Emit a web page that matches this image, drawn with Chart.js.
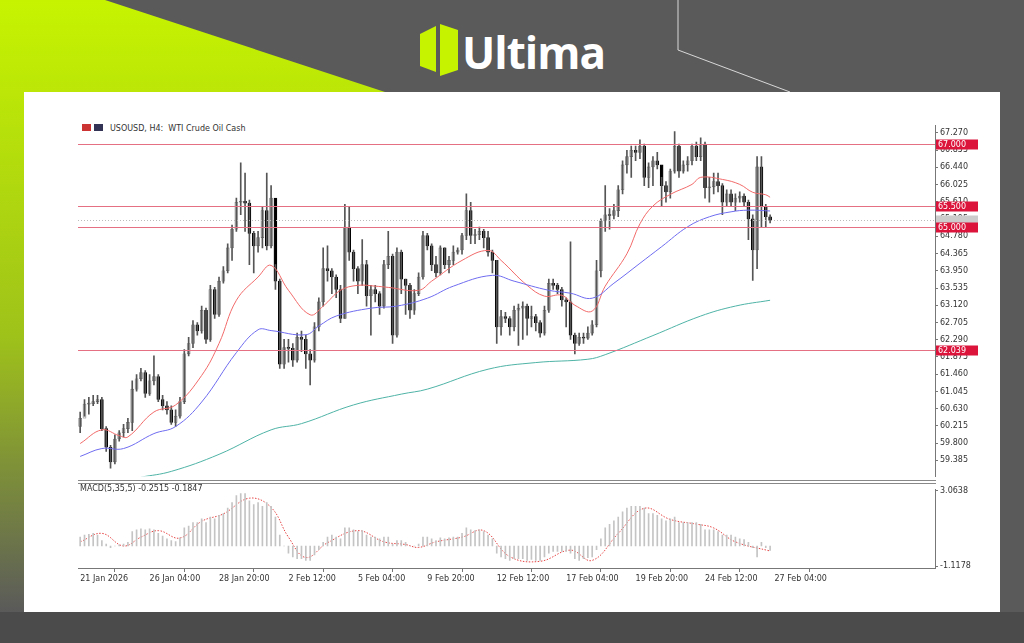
<!DOCTYPE html>
<html>
<head>
<meta charset="utf-8">
<script src="https://cdn.jsdelivr.net/npm/chart.js@4"></script>
<style>
  body { margin: 0; width: 1024px; height: 643px; overflow: hidden; background: #5a5a5a; font-family: "DejaVu Sans", sans-serif; }
  #deco { position: absolute; left: 0; top: 0; }
  #panel { position: absolute; left: 24px; top: 92px; width: 976px; height: 520px; background: #fff; }
  #logo { position: absolute; left: 462px; top: 22px; color: #fff; font: bold 44px "Open Sans", sans-serif; letter-spacing: -1px; }
  .cv { position: absolute; }
  #title { position: absolute; left: 110px; top: 124px; font-size: 8px; color: #333; }
  #macdTitle { position: absolute; left: 80px; top: 484px; font-size: 8px; color: #333; }
  #sep { position: absolute; left: 78px; top: 480px; width: 858px; height: 2px; border-top: 1px solid #888; border-bottom: 1px solid #888; }
</style>
</head>
<body>
<svg id="deco" width="1024" height="643">
  <defs>
    <linearGradient id="lg" x1="0" y1="0" x2="0" y2="1">
      <stop offset="0" stop-color="#c6f400"/>
      <stop offset="0.55" stop-color="#9fc21a"/>
      <stop offset="1" stop-color="#5a5a5a"/>
    </linearGradient>
  </defs>
  <polygon points="0,0 105,0 385,92 24,92 24,612 0,612" fill="url(#lg)"/>
  <rect x="0" y="612" width="1024" height="31" fill="#4b4b4b"/>
  <polyline points="678,0 678,50 790,92" fill="none" stroke="#d8d8d8" stroke-width="1"/>
  <polygon points="420,34 436,26 436,72 420,66" fill="#c6f400"/>
  <polygon points="440,24 458,30 458,70 440,76" fill="#c6f400"/>
</svg>
<div id="panel"></div>
<div id="logo">Ultima</div>
<div id="title"><span style="position:absolute;left:-28px;top:0;width:9px;height:7px;background:#c33"></span><span style="position:absolute;left:-16px;top:0;width:9px;height:7px;background:#335"></span>USOUSD, H4:&nbsp; WTI Crude Oil Cash</div>
<canvas id="main" class="cv" style="left:70px;top:115px" width="920" height="368"></canvas>
<div id="sep"></div>
<canvas id="macd" class="cv" style="left:70px;top:483px" width="920" height="110"></canvas>
<div id="macdTitle">MACD(5,35,5) -0.2515 -0.1847</div>
<script>
// price data, H4 bars
const firstOpen = 60.2;
const closes = [
  60.40, 60.74, 60.75, 60.80, 60.85, 60.15, 59.70, 59.35, 59.90, 60.05,
  60.15, 60.30, 61.10, 61.35, 61.50, 61.00, 61.30, 61.40, 60.85, 60.70,
  60.60, 60.30, 60.45, 60.80, 61.95, 62.20, 62.65, 62.50, 63.00, 62.30,
  63.50, 62.90, 63.70, 63.95, 64.50, 64.95, 65.60, 65.62, 65.58, 64.85,
  64.55, 64.75, 65.40, 64.55, 65.70, 63.70, 61.70, 62.10, 62.08, 61.80,
  62.35, 62.30, 61.95, 61.80, 62.60, 63.20, 64.00, 63.95, 63.80, 63.50,
  62.80, 65.00, 64.40, 64.00, 63.70, 64.10, 63.35, 63.50, 63.40, 63.10,
  64.10, 64.30, 62.40, 64.40, 63.75, 63.60, 63.00, 63.40, 63.80, 64.80,
  64.55, 64.10, 63.90, 64.50, 64.10, 64.20, 64.40, 64.45, 64.80, 65.40,
  64.80, 64.82, 64.90, 64.75, 64.40, 64.20, 62.60, 62.85, 62.80, 62.60,
  63.00, 63.05, 63.10, 62.80, 62.85, 62.70, 62.45, 63.00, 63.65, 63.60,
  63.50, 63.25, 63.20, 62.40, 62.20, 62.35, 62.33, 62.45, 62.65, 63.95,
  65.15, 65.30, 65.28, 65.40, 65.90, 66.50, 66.70, 66.85, 66.80, 66.95,
  66.20, 66.45, 66.60, 66.50, 66.00, 65.85, 66.35, 66.95, 66.35, 66.50,
  66.60, 66.95, 66.70, 67.00, 65.95, 65.97, 66.10, 66.00, 65.60, 65.80,
  65.60, 65.70, 65.75, 65.60, 65.20, 64.45, 66.45, 65.50, 65.25, 65.17
];
const highs = [
  60.55, 60.85, 60.90, 60.95, 60.95, 60.90, 60.20, 59.75, 60.00, 60.10,
  60.25, 60.40, 61.30, 61.45, 61.60, 61.55, 61.45, 61.90, 61.45, 60.95,
  60.80, 60.70, 60.60, 60.90, 62.05, 62.35, 62.75, 62.70, 63.10, 63.05,
  63.60, 63.55, 63.80, 64.05, 64.60, 65.05, 65.70, 66.55, 66.30, 65.65,
  64.90, 64.90, 65.50, 66.30, 66.00, 64.10, 63.75, 62.30, 62.30, 62.20,
  62.45, 62.50, 62.40, 62.05, 62.70, 63.30, 64.50, 64.55, 64.00, 63.85,
  63.60, 65.55, 65.50, 64.45, 64.05, 64.70, 64.20, 63.60, 63.60, 63.45,
  64.20, 64.90, 64.35, 64.50, 64.45, 63.75, 63.65, 63.50, 63.90, 64.90,
  64.85, 64.60, 64.30, 64.55, 64.50, 64.30, 64.55, 64.50, 64.85, 65.80,
  65.60, 64.95, 65.00, 64.95, 64.90, 64.45, 64.20, 63.00, 62.95, 62.85,
  63.10, 63.15, 63.20, 63.15, 63.10, 62.90, 62.75, 63.10, 63.75, 63.75,
  63.65, 63.55, 63.30, 64.65, 62.45, 62.45, 62.45, 62.60, 62.75, 64.20,
  65.20, 66.00, 65.45, 65.55, 66.00, 66.60, 66.85, 66.95, 66.95, 67.10,
  67.00, 66.55, 66.70, 66.80, 66.20, 66.10, 66.40, 67.30, 67.00, 66.60,
  66.70, 67.00, 67.05, 67.15, 67.05, 66.20, 66.30, 66.30, 66.05, 65.90,
  65.90, 65.80, 65.85, 65.80, 65.65, 65.30, 66.70, 66.70, 65.55, 65.30
];
const lows = [
  60.05, 60.45, 60.50, 60.70, 60.75, 60.10, 59.60, 59.20, 59.30, 59.85,
  59.95, 60.05, 60.10, 61.05, 61.30, 60.90, 60.95, 61.20, 60.80, 60.60,
  60.50, 60.25, 60.20, 60.40, 60.75, 61.90, 62.10, 62.40, 62.45, 62.20,
  62.25, 62.80, 62.85, 63.65, 63.90, 64.20, 64.90, 65.30, 64.90, 64.10,
  63.90, 64.40, 64.50, 64.45, 64.50, 63.50, 61.60, 61.60, 61.75, 61.65,
  61.75, 62.00, 61.60, 61.20, 61.75, 62.50, 63.10, 63.70, 63.40, 63.30,
  62.70, 62.80, 64.20, 63.70, 63.40, 63.60, 63.10, 62.40, 63.20, 62.90,
  63.05, 64.00, 62.20, 62.35, 63.40, 62.90, 62.80, 62.90, 63.35, 63.75,
  64.45, 63.95, 63.80, 63.85, 64.00, 63.90, 64.10, 64.35, 64.35, 64.70,
  64.60, 64.60, 64.70, 64.50, 64.30, 63.90, 62.20, 62.40, 62.70, 62.40,
  62.50, 62.15, 62.30, 62.40, 62.60, 62.50, 62.35, 62.40, 62.95, 63.50,
  63.40, 63.10, 62.60, 62.30, 61.95, 62.15, 62.20, 62.30, 62.40, 62.60,
  63.80, 64.90, 64.95, 65.20, 65.25, 65.80, 66.30, 66.20, 66.60, 66.65,
  66.00, 65.95, 66.00, 66.40, 65.50, 65.60, 65.70, 66.30, 66.20, 66.30,
  66.35, 66.50, 66.60, 66.60, 65.70, 65.60, 65.80, 65.85, 65.30, 65.50,
  65.50, 65.40, 65.60, 65.50, 64.70, 63.72, 64.00, 65.00, 65.00, 65.10
];

// moving averages: bar index / value
const maFastX = [0, 5, 9, 11, 17, 22, 28, 32, 36, 41, 44, 48, 53, 56, 60, 64, 68, 71, 78, 81, 88, 94, 97, 103, 107, 111, 114, 118, 121, 126, 129, 132, 136, 141, 143, 148, 152, 155, 158, 159];
const maFast  = [59.79, 60.12, 59.98, 59.95, 60.55, 60.72, 61.43, 62.20, 63.24, 63.80, 64.08, 63.48, 62.89, 63.10, 63.48, 63.60, 63.58, 63.55, 63.48, 63.70, 64.20, 64.44, 64.20, 63.60, 63.34, 63.36, 63.12, 62.98, 63.58, 64.36, 65.08, 65.51, 65.79, 66.03, 66.20, 66.15, 66.03, 65.84, 65.78, 65.72];
const maMidX = [0, 5, 10, 17, 22, 28, 36, 41, 44, 52, 55, 59, 67, 73, 80, 86, 95, 100, 108, 113, 118, 123, 129, 134, 140, 145, 150, 154, 159];
const maMid  = [59.48, 59.67, 59.67, 60.03, 60.20, 60.79, 61.98, 62.53, 62.51, 62.41, 62.62, 62.86, 63.05, 63.10, 63.29, 63.58, 63.84, 63.70, 63.48, 63.41, 63.29, 63.65, 64.13, 64.53, 65.01, 65.25, 65.37, 65.41, 65.39];
const maSlowX = [14, 21, 32, 44, 51, 63, 74, 80, 94, 105, 117, 121, 132, 143, 151, 159];
const maSlow  = [58.98, 59.12, 59.53, 60.12, 60.27, 60.72, 60.98, 61.10, 61.58, 61.74, 61.82, 61.93, 62.39, 62.86, 63.10, 63.24];

// MACD histogram, one value per bar
const macdHist = [
  0.5, 0.6, 0.65, 0.7, 0.6, 0.3, 0.1, -0.1, 0.0, 0.05,
  0.1, 0.2, 0.8, 0.9, 0.95, 0.9, 0.95, 0.9, 0.7, 0.55,
  0.4, 0.3, 0.25, 0.45, 1.0, 1.1, 1.3, 1.3, 1.5, 1.3,
  1.6, 1.5, 1.7, 1.8, 2.1, 2.4, 2.8, 2.9, 2.9, 2.5,
  2.3, 2.4, 2.2, 2.4, 2.2, 1.6, 0.6, 0.0, -0.4, -0.6,
  -0.7, -0.7, -0.8, -0.8, -0.5, -0.2, 0.2, 0.5, 0.6, 0.5,
  0.4, 1.0, 1.0, 0.9, 0.8, 0.85, 0.6, 0.5, 0.5, 0.4,
  0.5, 0.5, 0.1, 0.3, 0.3, 0.2, 0.0, 0.0, 0.1, 0.5,
  0.5, 0.4, 0.3, 0.45, 0.4, 0.45, 0.5, 0.5, 0.7, 1.0,
  0.9, 0.85, 0.9, 0.8, 0.6, 0.4, -0.4, -0.6, -0.7, -0.8,
  -0.7, -0.7, -0.7, -0.8, -0.75, -0.8, -0.8, -0.6, -0.4, -0.3,
  -0.3, -0.3, -0.3, -0.4, -0.7, -0.8, -0.7, -0.65, -0.6, -0.2,
  0.4, 1.0, 1.2, 1.4, 1.6, 1.9, 2.1, 2.2, 2.2, 2.2,
  2.1, 1.8, 1.8, 1.7, 1.5, 1.4, 1.5, 1.6, 1.3, 1.3,
  1.3, 1.3, 1.3, 1.2, 0.9, 0.9, 0.9, 0.8, 0.6, 0.6,
  0.6, 0.5, 0.4, 0.35, 0.2, -0.1, -0.6, 0.2, -0.1, -0.25
];
const macdSigX = [0, 5, 10, 14, 18, 23, 28, 33, 39, 44, 48, 52, 57, 64, 70, 75, 78, 82, 88, 93, 99, 106, 113, 118, 124, 130, 136, 142, 146, 151, 159];
const macdSig  = [0.23, 0.70, 0.0, 0.49, 0.85, 0.44, 1.37, 1.78, 2.65, 2.14, 0.49, -0.64, 0.18, 0.85, 0.23, 0.08, -0.08, 0.23, 0.49, 0.85, -0.59, -0.85, -0.23, -0.80, 0.70, 2.09, 1.47, 1.21, 1.0, 0.23, -0.28];

const priceTicks = ["67.270","66.855","66.440","66.025","65.610","65.195","64.780","64.365","63.950","63.535","63.120","62.705","62.290","61.875","61.460","61.045","60.630","60.215","59.800","59.385"];
const levels = [67.0, 65.5, 65.0, 62.039];
const levelLabels = ["67.000", "65.500", "65.000", "62.039"];
const lastPrice = 65.17;
const dateLabels = ["21 Jan 2026","26 Jan 04:00","28 Jan 20:00","2 Feb 12:00","5 Feb 04:00","9 Feb 20:00","12 Feb 12:00","17 Feb 04:00","19 Feb 20:00","24 Feb 12:00","27 Feb 04:00"];
const dateIdx = [0, 16, 32, 48, 64, 80, 96, 112, 128, 144, 160];
const macdTicks = [3.0638, -1.1178];

const opens = closes.map((c, i) => i === 0 ? firstOpen : closes[i - 1]);
const bull = closes.map((c, i) => c >= opens[i]);

const X_MIN = -0.5, X_MAX = 197;
const tickFont = { family: "DejaVu Sans", size: 8 };

const levelPlugin = {
  id: "levels",
  afterDatasetsDraw(chart) {
    const { ctx, chartArea: a, scales: { y } } = chart;
    ctx.save();
    ctx.strokeStyle = "#bbb";
    ctx.setLineDash([1, 2]);
    let yy = Math.round(y.getPixelForValue(lastPrice)) + 0.5;
    ctx.beginPath(); ctx.moveTo(a.left, yy); ctx.lineTo(a.right, yy); ctx.stroke();
    ctx.setLineDash([]);
    ctx.fillStyle = "#ccc";
    ctx.fillRect(a.right + 1, yy - 5, 42, 10);
    ctx.strokeStyle = "#e57083";
    ctx.lineWidth = 1.2;
    levels.forEach((v, i) => {
      const py = Math.round(y.getPixelForValue(v)) + 0.5;
      ctx.beginPath(); ctx.moveTo(a.left, py); ctx.lineTo(a.right, py); ctx.stroke();
      ctx.fillStyle = "#dc143c";
      ctx.fillRect(a.right + 1, py - 5, 42, 10);
      ctx.fillStyle = "#fff";
      ctx.font = "8px DejaVu Sans";
      ctx.textBaseline = "middle";
      ctx.fillText(levelLabels[i], a.right + 3, py);
    });
    ctx.restore();
  }
};

new Chart(document.getElementById("main"), {
  data: {
    datasets: [
      { type: "line", data: maSlowX.map((x, i) => ({ x, y: maSlow[i] })), borderColor: "#4fb3a6", borderWidth: 1, pointRadius: 0, tension: 0.4 },
      { type: "line", data: maMidX.map((x, i) => ({ x, y: maMid[i] })), borderColor: "#6f6cf0", borderWidth: 1, pointRadius: 0, tension: 0.4 },
      { type: "line", data: maFastX.map((x, i) => ({ x, y: maFast[i] })), borderColor: "#f26a6a", borderWidth: 1, pointRadius: 0, tension: 0.4 },
      { type: "bar", grouped: false, barThickness: 1, backgroundColor: "#555",
        data: closes.map((c, i) => ({ x: i, y: [lows[i], highs[i]] })) },
      { type: "bar", grouped: false, barThickness: 3, minBarLength: 1, borderSkipped: false, borderWidth: 0.6,
        backgroundColor: bull.map(b => b ? "#d8d8d8" : "#000"), borderColor: bull.map(b => b ? "#666" : "#000"),
        data: closes.map((c, i) => ({ x: i, y: [opens[i], c] })) }
    ]
  },
  options: {
    responsive: false, animation: false,
    layout: { padding: { left: 8, top: 10, bottom: 3, right: 0 } },
    plugins: { legend: { display: false }, tooltip: { enabled: false } },
    scales: {
      x: { type: "linear", min: X_MIN, max: X_MAX, display: false, offset: false },
      y: {
        position: "right", min: 59.004, max: 67.46,
        afterBuildTicks: s => { s.ticks = priceTicks.map(t => ({ value: parseFloat(t) })); },
        afterFit: s => { s.width = 55; },
        ticks: { font: tickFont, color: "#333", padding: 2, callback: v => v.toFixed(3) },
        grid: { drawOnChartArea: false, tickLength: 3, color: "#777" },
        border: { color: "#777" }
      }
    }
  },
  plugins: [levelPlugin]
});

new Chart(document.getElementById("macd"), {
  data: {
    datasets: [
      { type: "bar", grouped: false, barThickness: 1, backgroundColor: "#c4c4c4",
        data: macdHist.map((v, i) => ({ x: i, y: v })) },
      { type: "line", data: macdSigX.map((x, i) => ({ x, y: macdSig[i] })), borderColor: "#e64545", borderWidth: 1, borderDash: [1.5, 1.5], pointRadius: 0, tension: 0.4 }
    ]
  },
  options: {
    responsive: false, animation: false,
    layout: { padding: { left: 8, top: 1, bottom: 0, right: 0 } },
    plugins: { legend: { display: false }, tooltip: { enabled: false } },
    scales: {
      x: {
        type: "linear", min: X_MIN, max: X_MAX, offset: false,
        afterBuildTicks: s => { s.ticks = dateIdx.map(v => ({ value: v })); },
        afterFit: s => { s.height = 25; },
        ticks: { font: tickFont, color: "#333", align: "start", maxRotation: 0, autoSkip: false, padding: 2,
          callback: v => dateLabels[dateIdx.indexOf(v)] },
        grid: { drawOnChartArea: false, tickLength: 4, color: "#777" },
        border: { color: "#777" }
      },
      y: {
        position: "right", min: -1.221, max: 3.115,
        afterBuildTicks: s => { s.ticks = macdTicks.map(v => ({ value: v })); },
        afterFit: s => { s.width = 55; },
        ticks: { font: tickFont, color: "#333", padding: 2, callback: v => v.toFixed(4) },
        grid: { drawOnChartArea: false, tickLength: 3, color: "#777" },
        border: { color: "#777" }
      }
    }
  }
});
</script>
</body>
</html>
